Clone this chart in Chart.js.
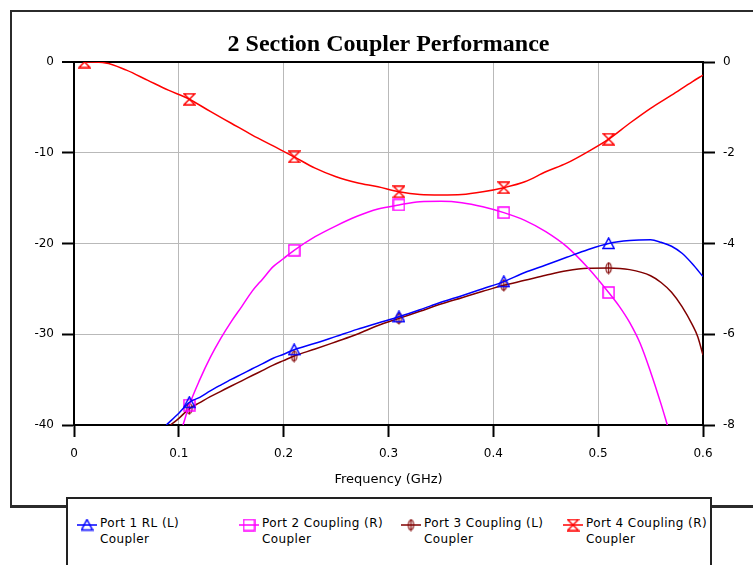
<!DOCTYPE html>
<html>
<head>
<meta charset="utf-8">
<script src="https://cdn.jsdelivr.net/npm/chart.js@4.4.1/dist/chart.umd.min.js"></script>
<style>
  html, body { margin: 0; padding: 0; background: #fff; }
  body { width: 753px; height: 565px; position: relative; overflow: hidden; font-family: 'DejaVu Sans', sans-serif; }
  #frame { position: absolute; left: 10px; top: 10px; width: 800px; height: 493px; border: 2px solid #2b2b2b; border-bottom-width: 3px; }
  #chartWrap { position: absolute; left: 24px; top: 0; width: 729px; height: 495px; }
  #legend { position: absolute; left: 66px; top: 497px; width: 642px; height: 100px; border: 2px solid #222; background: #fff; }
  .item { position: absolute; top: 16px; font-size: 12px; line-height: 16px; letter-spacing: 0.4px; color: #000; }
  .item canvas { position: absolute; left: 0; top: 3px; }
  .item .txt { position: absolute; left: 23px; top: 0; white-space: nowrap; }
</style>
</head>
<body>
<div id="frame"></div>
<div id="chartWrap"><canvas id="coupler" width="729" height="495"></canvas></div>
<div id="legend"></div>
<script>
// frequencies (GHz) where the simulator put its markers
const markerFreqs = [0.01, 0.11, 0.21, 0.31, 0.41, 0.51];

// Port 1 RL, left axis (dB)
const port1Freq = [0.088, 0.10, 0.11, 0.12, 0.13, 0.14, 0.15, 0.16, 0.17, 0.18, 0.19, 0.20, 0.21, 0.23, 0.25, 0.27, 0.29, 0.31, 0.33, 0.35, 0.37, 0.39, 0.41, 0.43, 0.45, 0.47, 0.49, 0.51, 0.53, 0.55, 0.56, 0.57, 0.58, 0.59, 0.60];
const port1Values = [-40, -38.7, -37.5, -36.95, -36.25, -35.6, -34.97, -34.4, -33.8, -33.24, -32.65, -32.2, -31.7, -31.0, -30.23, -29.46, -28.76, -28.07, -27.3, -26.48, -25.75, -24.98, -24.2, -23.2, -22.37, -21.52, -20.68, -20.0, -19.68, -19.6, -19.87, -20.3, -21.08, -22.26, -23.65];

// Port 2 coupling, right axis (dB)
const port2Freq = [0.104, 0.11, 0.12, 0.13, 0.14, 0.15, 0.16, 0.17, 0.18, 0.19, 0.20, 0.21, 0.23, 0.25, 0.27, 0.29, 0.31, 0.33, 0.35, 0.37, 0.39, 0.41, 0.43, 0.45, 0.47, 0.49, 0.51, 0.52, 0.53, 0.54, 0.55, 0.56, 0.566];
const port2Values = [-8.0, -7.56, -7.0, -6.51, -6.09, -5.72, -5.39, -5.05, -4.78, -4.51, -4.33, -4.15, -3.85, -3.61, -3.40, -3.24, -3.15, -3.08, -3.07, -3.10, -3.19, -3.32, -3.49, -3.74, -4.07, -4.53, -5.08, -5.38, -5.74, -6.2, -6.83, -7.54, -8.0];

// Port 3 coupling, left axis (dB)
const port3Freq = [0.092, 0.10, 0.11, 0.12, 0.13, 0.14, 0.15, 0.16, 0.17, 0.18, 0.19, 0.20, 0.21, 0.23, 0.25, 0.27, 0.29, 0.31, 0.33, 0.35, 0.37, 0.39, 0.41, 0.43, 0.45, 0.47, 0.49, 0.51, 0.53, 0.55, 0.56, 0.57, 0.58, 0.59, 0.595, 0.60];
const port3Values = [-40, -39.27, -38.2, -37.54, -36.88, -36.29, -35.7, -35.13, -34.55, -33.98, -33.4, -32.9, -32.4, -31.63, -30.82, -30.0, -29.04, -28.25, -27.47, -26.67, -25.97, -25.27, -24.6, -24.06, -23.5, -23.0, -22.73, -22.7, -22.88, -23.55, -24.3, -25.38, -26.96, -29.0, -30.27, -32.3];

// Port 4 coupling, right axis (dB)
const port4Freq = [0.01, 0.03, 0.05, 0.07, 0.09, 0.11, 0.13, 0.15, 0.17, 0.19, 0.21, 0.23, 0.25, 0.27, 0.29, 0.31, 0.33, 0.35, 0.37, 0.39, 0.41, 0.43, 0.45, 0.47, 0.49, 0.51, 0.53, 0.55, 0.57, 0.59, 0.60];
const port4Values = [0, -0.02, -0.18, -0.40, -0.62, -0.82, -1.09, -1.35, -1.61, -1.85, -2.09, -2.34, -2.53, -2.66, -2.75, -2.86, -2.92, -2.93, -2.92, -2.86, -2.77, -2.64, -2.42, -2.23, -1.98, -1.70, -1.35, -1.02, -0.73, -0.43, -0.29];

const seriesNames = ['Port 1 RL (L)', 'Port 2 Coupling (R)', 'Port 3 Coupling (L)', 'Port 4 Coupling (R)'];
const seriesNote = 'Coupler';

const leftTicks = { min: -40, max: 0, step: 10 };
const rightTicks = { min: -8, max: 0, step: 2 };
const freqTicks = { min: 0, max: 0.6, step: 0.1 };

const gridGray = '#b9b9b9';

// little canvases used as point styles
function makeMarker(kind, color) {
    const c = document.createElement('canvas');
    c.width = 13; c.height = 13;
    const g = c.getContext('2d');
    g.strokeStyle = color;
    g.lineWidth = kind === 'oval' ? 1.1 : 1.5;
    g.beginPath();
    if (kind === 'triangle') {
        g.moveTo(6.5, 1); g.lineTo(12, 11.5); g.lineTo(1, 11.5); g.closePath();
    } else if (kind === 'square') {
        g.rect(1, 1, 11, 11);
    } else if (kind === 'oval') {
        g.ellipse(6.5, 6.5, 2.6, 5, 0, 0, Math.PI * 2);
        g.moveTo(6.5, 0.5); g.lineTo(6.5, 12.5);
    } else {
        // hourglass
        g.moveTo(1, 1); g.lineTo(12, 1); g.lineTo(1, 12); g.lineTo(12, 12); g.closePath();
    }
    g.stroke();
    return c;
}

function series(freq, values) {
    return freq.map((f, i) => ({ x: f, y: values[i] }));
}

function lineSet(label, freq, values, color, marker, axis) {
    return {
        label: label,
        data: series(freq, values),
        yAxisID: axis,
        borderColor: color,
        backgroundColor: color,
        borderWidth: 1.5,
        fill: false,
        cubicInterpolationMode: 'monotone',
        pointStyle: makeMarker(marker, color),
        pointRadius: ctx => markerFreqs.includes(ctx.raw.x) ? 6 : 0,
        pointHoverRadius: ctx => markerFreqs.includes(ctx.raw.x) ? 6 : 0
    };
}

const tickFont = { family: 'DejaVu Sans', size: 12 };
const edgeBlack = (edges) => ctx => edges.includes(ctx.tick.value) ? '#000' : gridGray;
const edgeWidth = (edges) => ctx => edges.includes(ctx.tick.value) ? 2 : 1;

const chart = new Chart(document.getElementById('coupler'), {
    type: 'line',
    data: {
        datasets: [
            lineSet(seriesNames[0], port1Freq, port1Values, '#0000ff', 'triangle', 'yL'),
            lineSet(seriesNames[1], port2Freq, port2Values, '#ff00ff', 'square', 'yR'),
            lineSet(seriesNames[2], port3Freq, port3Values, '#800000', 'oval', 'yL'),
            lineSet(seriesNames[3], port4Freq, port4Values, '#ff0000', 'hourglass', 'yR')
        ]
    },
    options: {
        responsive: false,
        animation: false,
        layout: { padding: 0 },
        plugins: {
            legend: { display: false },
            tooltip: { enabled: false },
            title: {
                display: true,
                text: '2 Section Coupler Performance',
                color: '#000',
                font: { family: 'Liberation Serif', size: 24, weight: 'bold', lineHeight: 1.2 },
                padding: { top: 30.6, bottom: 2.6 }
            }
        },
        scales: {
            x: {
                type: 'linear',
                min: freqTicks.min,
                max: freqTicks.max,
                afterFit: s => { s.height = 70; },
                ticks: {
                    stepSize: freqTicks.step,
                    color: '#000',
                    font: tickFont,
                    padding: 10,
                    maxRotation: 0,
                    callback: v => v === 0 ? '0' : v.toFixed(1)
                },
                grid: {
                    color: ctx => (ctx.tick.value < 0.001 || ctx.tick.value > 0.599) ? '#000' : gridGray,
                    lineWidth: 1,
                    tickLength: 12,
                    tickColor: '#000',
                    tickWidth: 2
                },
                border: { color: '#000', width: 2 },
                title: {
                    display: true,
                    text: 'Frequency (GHz)',
                    color: '#000',
                    font: { family: 'DejaVu Sans', size: 13 },
                    padding: { top: 0, bottom: 8 }
                }
            },
            yL: {
                position: 'left',
                min: leftTicks.min,
                max: leftTicks.max,
                afterFit: s => { s.width = 50; },
                ticks: { stepSize: leftTicks.step, color: '#000', font: tickFont, padding: 8 },
                grid: {
                    color: edgeBlack([leftTicks.max, leftTicks.min]),
                    lineWidth: edgeWidth([leftTicks.max]),
                    tickLength: 12,
                    tickColor: '#000',
                    tickWidth: 2
                },
                border: { color: '#000', width: 2 }
            },
            yR: {
                position: 'right',
                min: rightTicks.min,
                max: rightTicks.max,
                afterFit: s => { s.width = 50; },
                ticks: { stepSize: rightTicks.step, color: '#000', font: tickFont, padding: 8 },
                grid: {
                    drawOnChartArea: false,
                    tickLength: 12,
                    tickColor: '#000',
                    tickWidth: 2
                },
                border: { color: '#000', width: 2 }
            }
        }
    }
});

// legend drawn as html under the chart
function buildLegend(chart) {
    const box = document.getElementById('legend');
    const columnLeft = [9, 171, 333, 495];
    chart.data.datasets.forEach((ds, i) => {
        const item = document.createElement('div');
        item.className = 'item';
        item.style.left = columnLeft[i] + 'px';
        const c = document.createElement('canvas');
        c.width = 20; c.height = 14;
        const g = c.getContext('2d');
        g.strokeStyle = ds.borderColor;
        g.lineWidth = 1.5;
        g.beginPath(); g.moveTo(0, 7); g.lineTo(20, 7); g.stroke();
        g.drawImage(ds.pointStyle, 10 - 6.5, 7 - 6.5);
        item.appendChild(c);
        const t = document.createElement('div');
        t.className = 'txt';
        t.innerHTML = ds.label + '<br>' + seriesNote;
        item.appendChild(t);
        box.appendChild(item);
    });
}
buildLegend(chart);
</script>
</body>
</html>
